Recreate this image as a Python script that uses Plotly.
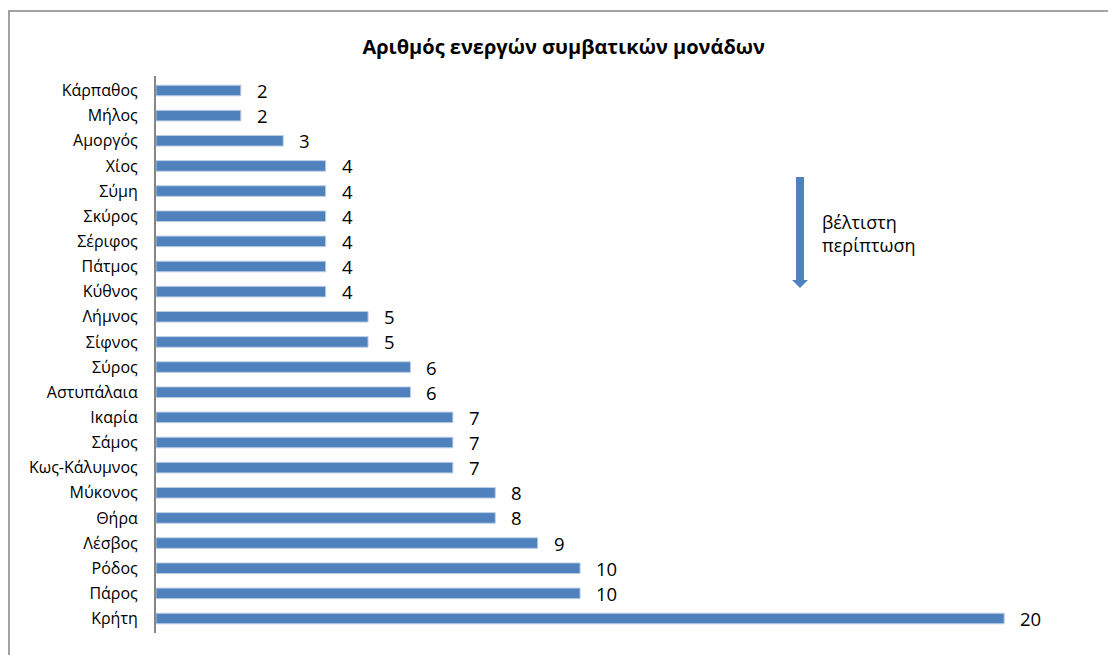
import plotly.graph_objects as go

# Νησιά (από πάνω προς τα κάτω) και αριθμός ενεργών συμβατικών μονάδων
islands = ["Κάρπαθος", "Μήλος", "Αμοργός", "Χίος", "Σύμη", "Σκύρος", "Σέριφος",
           "Πάτμος", "Κύθνος", "Λήμνος", "Σίφνος", "Σύρος", "Αστυπάλαια", "Ικαρία",
           "Σάμος", "Κως-Κάλυμνος", "Μύκονος", "Θήρα", "Λέσβος", "Ρόδος", "Πάρος", "Κρήτη"]
units = [2, 2, 3, 4, 4, 4, 4, 4, 4, 5, 5, 6, 6, 7, 7, 7, 8, 8, 9, 10, 10, 20]

title_text = "Αριθμός ενεργών συμβατικών μονάδων"
note_text = "βέλτιστη<br>περίπτωση"

FONT = "Open Sans"
BAR_BLUE = "#4F81BD"
EDGE_BLUE = "#B9CDE5"
FRAME_GREY = "#868686"

fig = go.Figure()
fig.add_trace(go.Bar(
    x=units, y=islands, orientation="h",
    width=0.42,
    marker=dict(color=BAR_BLUE, line=dict(color=EDGE_BLUE, width=1)),
    hoverinfo="x+y",
))

# Ετικέτες τιμών δεξιά από κάθε μπάρα
annotations = [
    dict(x=v, y=name, xref="x", yref="y", text=str(v), showarrow=False,
         xanchor="left", yanchor="middle", xshift=14,
         font=dict(family=FONT, size=18.5, color="#000000"))
    for name, v in zip(islands, units)
]

# Σημείωση δίπλα στο βέλος
annotations.append(dict(
    x=0.712, y=0.717, xref="paper", yref="paper", text=note_text,
    showarrow=False, xanchor="left", yanchor="middle", align="left",
    font=dict(family=FONT, size=18, color="#000000"),
))

shapes = [
    # Περίγραμμα γραφήματος
    dict(type="rect", xref="paper", yref="paper",
         x0=-0.1576, x1=1.3, y0=-0.3, y1=1.1167,
         line=dict(color=FRAME_GREY, width=1.5), layer="below"),
    # Κορμός βέλους
    dict(type="rect", xref="paper", yref="paper",
         x0=0.6860, x1=0.6945, y0=0.632, y1=0.8187,
         fillcolor=BAR_BLUE, line=dict(width=0)),
    # Αιχμή βέλους
    dict(type="path", xref="paper", yref="paper",
         path="M 0.6817 0.6338 L 0.6988 0.6338 L 0.69025 0.6194 Z",
         fillcolor=BAR_BLUE, line=dict(width=0)),
]

fig.update_layout(
    width=1108, height=655,
    margin=dict(l=156, r=19, t=76, b=22),
    paper_bgcolor="white", plot_bgcolor="white",
    showlegend=False,
    title=dict(text=f"<b>{title_text}</b>", x=0.437, xref="paper", xanchor="center",
               y=1 - 47 / 655, yanchor="middle",
               font=dict(family=FONT, size=20, color="#000000")),
    xaxis=dict(range=[0, 22], visible=False, fixedrange=True),
    yaxis=dict(autorange="reversed", showgrid=False, zeroline=False,
               showline=True, linecolor=FRAME_GREY, linewidth=2,
               ticks="", ticklabelstandoff=13,
               tickfont=dict(family=FONT, size=16, color="#000000")),
    annotations=annotations,
    shapes=shapes,
    bargap=0.58,
)

fig.write_html("out.html")
